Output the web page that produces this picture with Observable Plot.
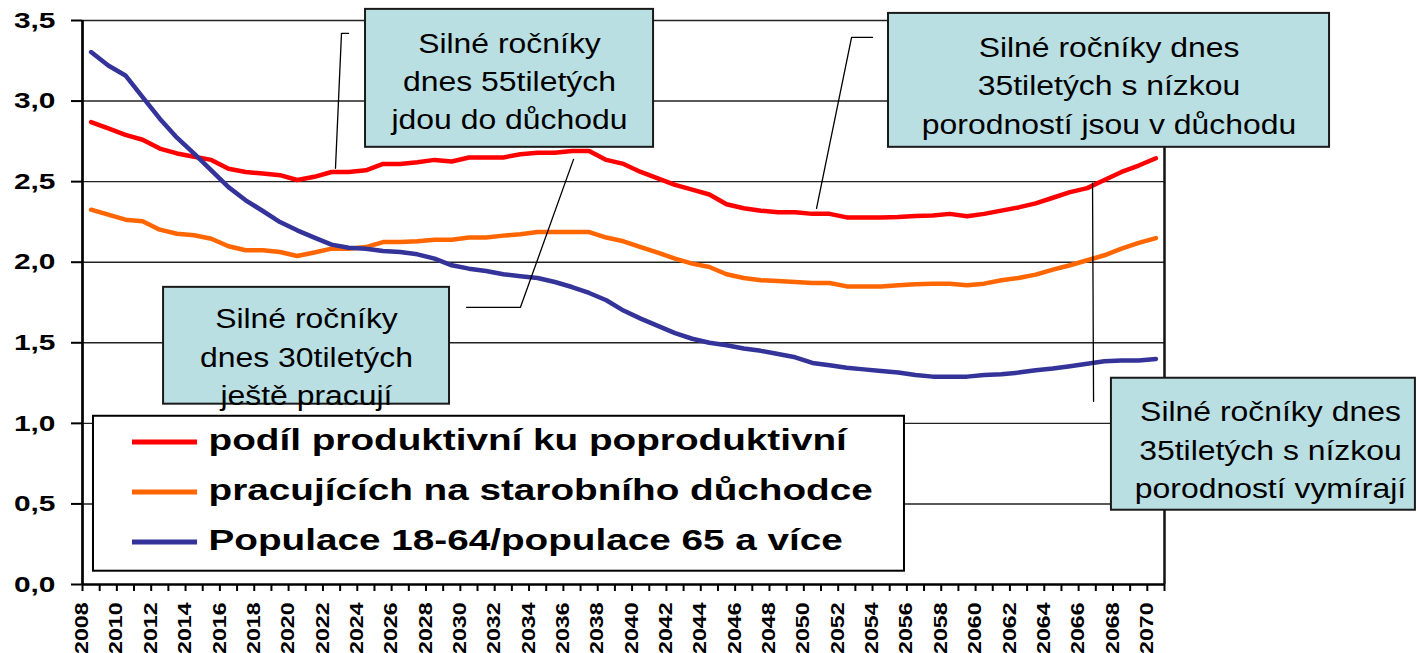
<!DOCTYPE html>
<html><head><meta charset="utf-8">
<script src="https://cdn.jsdelivr.net/npm/d3@7"></script>
<script src="https://cdn.jsdelivr.net/npm/@observablehq/plot@0.6"></script>
<style>body{margin:0;background:#fff;} svg{display:block;}</style>
</head><body><div id="chart"></div>
<script>
// ---------- DATA ----------
const years = [2008,2009,2010,2011,2012,2013,2014,2015,2016,2017,2018,2019,2020,2021,2022,2023,2024,2025,2026,2027,2028,2029,2030,2031,2032,2033,2034,2035,2036,2037,2038,2039,2040,2041,2042,2043,2044,2045,2046,2047,2048,2049,2050,2051,2052,2053,2054,2055,2056,2057,2058,2059,2060,2061,2062,2063,2064,2065,2066,2067,2068,2069,2070];
const seriesNames = ["podíl produktivní ku poproduktivní", "pracujících na starobního důchodce", "Populace 18-64/populace 65 a více"];
const seriesColors = ["#FF0000", "#FF6600", "#333399"];
const ratioProductive = [2.87,2.83,2.79,2.76,2.705,2.675,2.655,2.635,2.58,2.56,2.55,2.54,2.51,2.53,2.56,2.56,2.57,2.61,2.61,2.62,2.635,2.625,2.65,2.65,2.65,2.67,2.68,2.68,2.69,2.69,2.635,2.61,2.56,2.52,2.48,2.45,2.42,2.36,2.335,2.32,2.31,2.31,2.30,2.30,2.278,2.278,2.278,2.28,2.287,2.29,2.30,2.285,2.30,2.32,2.34,2.365,2.40,2.435,2.46,2.51,2.56,2.60,2.645];
const ratioWorkers = [2.326,2.295,2.264,2.254,2.202,2.177,2.167,2.146,2.099,2.074,2.074,2.063,2.039,2.06,2.084,2.084,2.094,2.125,2.125,2.13,2.14,2.14,2.153,2.153,2.165,2.173,2.187,2.187,2.187,2.187,2.153,2.13,2.094,2.06,2.022,1.991,1.97,1.925,1.902,1.888,1.883,1.877,1.871,1.871,1.85,1.85,1.85,1.857,1.863,1.867,1.867,1.857,1.867,1.888,1.902,1.923,1.954,1.981,2.012,2.043,2.084,2.12,2.15];
const ratioPopulation = [3.304,3.221,3.159,3.025,2.891,2.773,2.674,2.57,2.466,2.384,2.318,2.249,2.198,2.153,2.109,2.09,2.084,2.07,2.063,2.049,2.022,1.981,1.96,1.945,1.925,1.913,1.902,1.877,1.846,1.809,1.764,1.70,1.65,1.605,1.56,1.525,1.50,1.485,1.465,1.45,1.43,1.41,1.375,1.36,1.345,1.335,1.325,1.315,1.30,1.29,1.29,1.29,1.30,1.305,1.315,1.33,1.34,1.355,1.37,1.385,1.39,1.39,1.40];
const yTickValues = [0, 0.5, 1, 1.5, 2, 2.5, 3, 3.5];
const xLabelYears = [2008,2010,2012,2014,2016,2018,2020,2022,2024,2026,2028,2030,2032,2034,2036,2038,2040,2042,2044,2046,2048,2050,2052,2054,2056,2058,2060,2062,2064,2066,2068,2070];
const noteTexts = [
  "Silné ročníky\ndnes 55tiletých\njdou do důchodu",
  "Silné ročníky\ndnes 30tiletých\nještě pracují",
  "Silné ročníky dnes\n35tiletých s nízkou\nporodností jsou v důchodu",
  "Silné ročníky dnes\n35tiletých s nízkou\nporodností vymírají"
];

// ---------- LAYOUT (in data units) ----------
const noteBoxes = [
  {x1: 2023.98, x2: 2040.75, y1: 3.569, y2: 2.713, tx: 2032.36, ty: 3.139},
  {x1: 2012.22, x2: 2028.87, y1: 1.844, y2: 1.119, tx: 2020.54, ty: 1.427},
  {x1: 2054.43, x2: 2080.11, y1: 3.544, y2: 2.713, tx: 2067.27, ty: 3.112},
  {x1: 2067.41, x2: 2085.11, y1: 1.280, y2: 0.461, tx: 2076.67, ty: 0.852}
].map((b, i) => ({...b, text: noteTexts[i]}));
const leaders = [
  [[2022.99, 3.420], [2022.58, 3.420], [2022.23, 2.583]],
  [[2036.09, 2.638], [2033.00, 1.720], [2029.86, 1.720]],
  [[2053.50, 3.395], [2052.28, 3.395], [2050.24, 2.334]],
  [[2066.31, 2.490], [2066.37, 1.137]]
].flatMap((pts, id) => pts.map(([x, y]) => ({id, x, y})));
const legendBox = {x1: 2008.14, x2: 2055.36, y1: 1.044, y2: 0.0825};
const legendY = i => 0.8846 - i * 0.3102;

// ---------- BUILD ----------
const rows = [];
[ratioProductive, ratioWorkers, ratioPopulation].forEach((arr, s) =>
  arr.forEach((v, i) => rows.push({year: years[i], value: v, series: seriesNames[s]})));
const boundaries = years.map(y => y - 0.5).concat([years[years.length - 1] + 0.5]);
const fmtComma = d => d.toFixed(1).replace(".", ",");

const svg = Plot.plot({
  width: 1418, height: 653,
  marginLeft: 82, marginRight: 254, marginTop: 20, marginBottom: 69,
  style: {fontFamily: "'Liberation Sans', Arial, sans-serif", background: "#fff", color: "#000"},
  x: {type: "linear", domain: [2007.5, 2070.5]},
  y: {domain: [0, 3.5]},
  color: {domain: seriesNames, range: seriesColors},
  marks: [
    Plot.ruleY(yTickValues.filter(d => d > 0), {stroke: "#222", strokeWidth: 1.4}),
    Plot.ruleX([2070.5], {y1: 0, y2: 3.5, stroke: "#111", strokeWidth: 2.5}),
    Plot.line(rows, {x: "year", y: "value", z: "series", stroke: "series", strokeWidth: 4.5, strokeLinejoin: "round"}),
    Plot.line(leaders, {x: "x", y: "y", z: "id", stroke: "#000", strokeWidth: 1.3}),
    Plot.rect(noteBoxes, {x1: "x1", x2: "x2", y1: "y1", y2: "y2", fill: "#BADFE3", stroke: "#1a1a1a", strokeWidth: 2}),
    Plot.text(noteBoxes, {x: "tx", y: "ty", text: "text", fontSize: 28, lineHeight: 1.375, fill: "#000"}),
    Plot.rect([legendBox], {x1: "x1", x2: "x2", y1: "y1", y2: "y2", fill: "#fff", stroke: "#000", strokeWidth: 2}),
    Plot.ruleY(seriesNames, {y: (d, i) => legendY(i), x1: 2010.41, x2: 2014.2, stroke: d => d, strokeWidth: 5}),
    Plot.text(seriesNames, {x: 2014.84, y: (d, i) => legendY(i), text: d => d, textAnchor: "start", fontSize: 30, fontWeight: "bold", dy: -2, fill: "#000"}),
    Plot.ruleX([2007.5], {y1: 0, y2: 3.5, stroke: "#000", strokeWidth: 2.7}),
    Plot.ruleY([0], {stroke: "#000", strokeWidth: 2.7}),
    Plot.axisY({ticks: yTickValues, tickSize: 11, tickPadding: 16, tickFormat: fmtComma, fontSize: 22.5, fontWeight: "bold", strokeWidth: 2, label: null}),
    Plot.axisX({ticks: boundaries, tickSize: 7, strokeWidth: 2, tickFormat: () => "", label: null}),
    Plot.text(xLabelYears, {x: d => d - 0.5, frameAnchor: "bottom", text: d => String(d), rotate: -90,
      textAnchor: "end", lineAnchor: "middle", dy: 18, fontSize: 17.5, fontWeight: "bold", fill: "#000"})
  ]
});

// horizontal stretch of the original (wide) lettering, along the text direction
const stretchBySize = {"22.5": 1.33, "17.5": 1.32, "30": 1.29, "28": 1.14};
svg.querySelectorAll("text").forEach(t => {
  const g = t.closest("[font-size]");
  if (!g) return;
  const s = stretchBySize[String(parseFloat(g.getAttribute("font-size")))];
  const tr = t.getAttribute("transform");
  if (s && tr) t.setAttribute("transform", tr + ` scale(${s},1)`);
});
document.getElementById("chart").appendChild(svg);
</script>
</body></html>
